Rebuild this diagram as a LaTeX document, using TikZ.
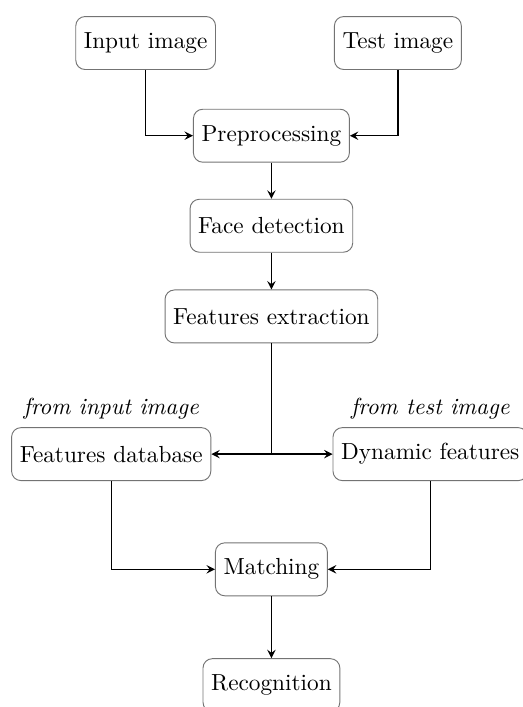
\documentclass[tikz,border=0pt]{standalone}
\usepackage{tikz}
\usetikzlibrary{positioning}

\tikzset{
	stepbox/.style={draw=black!55, rounded corners=4pt, minimum height=0.8cm, inner xsep=3.5pt},
	flow/.style={->, >=stealth, semithick},
	note/.style={font=\itshape}
}

\begin{document}
\begin{tikzpicture}[on grid]
	\useasboundingbox (0,0) rectangle (7.90,-10.68);
	%% input side
	\node[stepbox] (inimg) at (2.20,-0.65) {Input image};
	\node[stepbox, right = 3.81cm of inimg] (tstimg) {Test image};
	\node[stepbox, below right = 1.40cm and 1.90cm of inimg] (prep) {Preprocessing};
	\node[stepbox, below = 1.36cm of prep] (face) {Face detection};
	\node[stepbox, below = 1.37cm of face] (fext) {Features extraction};
	%% features
	\node[stepbox, below left = 2.08cm and 2.42cm of fext] (fdb) {Features database};
	\node[stepbox, below right = 2.08cm and 2.40cm of fext] (dyn) {Dynamic features};
	\node[note, above = 0.68cm of fdb] (fdblab) {from input image};
	\node[note, above = 0.68cm of dyn] (dynlab) {from test image};
	%% output side
	\node[stepbox, below = 3.82cm of fext] (match) {Matching};
	\node[stepbox, below = 1.75cm of match] (recog) {Recognition};
	\coordinate (split) at (fext.south |- fdb.east);
	% connect the boxes
	\draw[flow] (inimg) |- (prep);
	\draw[flow] (tstimg) |- (prep);
	\draw[flow] (prep) -- (face);
	\draw[flow] (face) -- (fext);
	\draw[semithick] (fext) -- (split);
	\draw[flow] (split) -- (fdb);
	\draw[flow] (split) -- (dyn);
	\draw[flow] (fdb) |- (match);
	\draw[flow] (dyn) |- (match);
	\draw[flow] (match) -- (recog);
\end{tikzpicture}
\end{document}
